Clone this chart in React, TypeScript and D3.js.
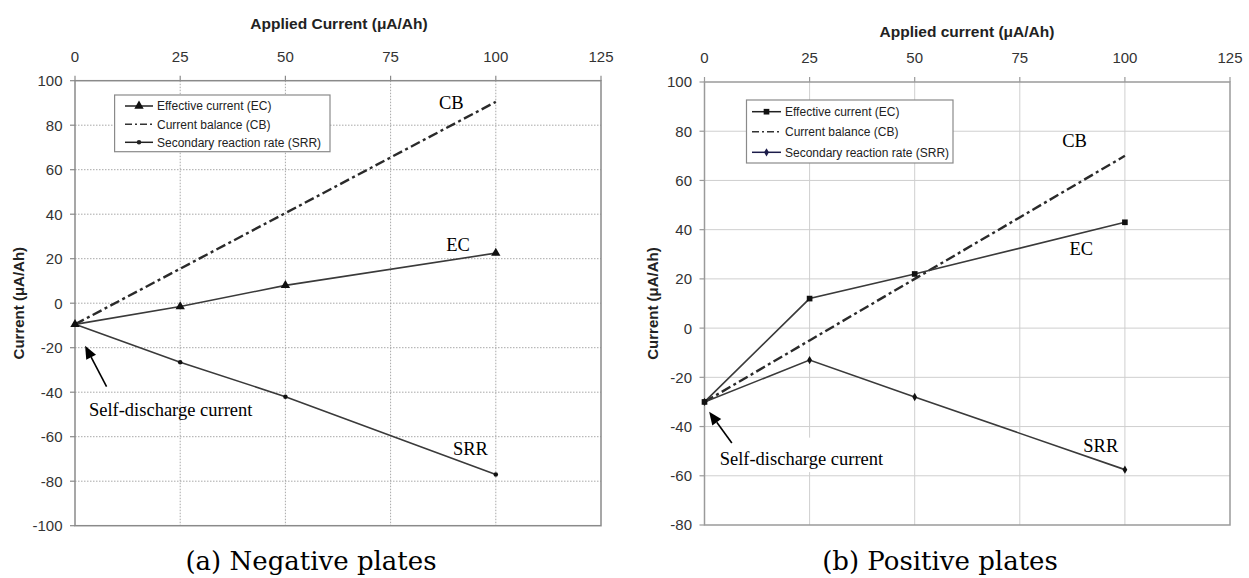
import React from 'react';
import * as d3 from 'd3';

// ---- data ----
const appliedCurrent = [0, 25, 50, 100];
const negEC = [-9.5, -1.5, 8, 22.5];
const negCB = [-9.5, 15.5, 40.5, 90.5];
const negSRR = [-9.5, -26.5, -42, -77];
const posEC = [-30, 12, 22, 43];
const posCB = [-30, -5, 20, 70];
const posSRR = [-30, -13, -28, -57.5];
const xTicks = [0, 25, 50, 75, 100, 125];
const negYTicks = [-100, -80, -60, -40, -20, 0, 20, 40, 60, 80, 100];
const posYTicks = [-80, -60, -40, -20, 0, 20, 40, 60, 80, 100];
const legendLabels = ['Effective current (EC)', 'Current balance (CB)', 'Secondary reaction rate (SRR)'];
const seriesTags = ['EC', 'CB', 'SRR'];
const negTitle = 'Applied Current (μA/Ah)';
const posTitle = 'Applied current (μA/Ah)';
const yTitle = 'Current (μA/Ah)';
const annotationText = 'Self-discharge current';
const captions = ['(a) Negative plates', '(b) Positive plates'];

const SANS = '"Liberation Sans", Arial, sans-serif';
const SERIF = '"Liberation Serif", "Times New Roman", serif';

type Cfg = {
  title: string;
  ec: number[];
  cb: number[];
  srr: number[];
  yTicks: number[];
  xRange: [number, number];
  yRange: [number, number];
  yDomain: [number, number];
  dotted: boolean;
  ecSym: any;
  ecSize: number;
  srrSym: any;
  srrSize: number;
  srrLegendColor: string;
  gridColor: string;
  frameColor: string;
  titleXY: [number, number];
  tickLabelY: number;
  yLabelX: number;
  legend: { x: number; y: number; w: number; h: number; rows: number[]; s0: number; s1: number; tx: number };
  tags: { text: string; x: number; y: number }[];
  anno: { x: number; y: number };
  arrow: { x1: number; y1: number; x2: number; y2: number };
  annoBox?: { x: number; y: number; w: number; h: number };
  caption: string;
  captionX: number;
};

const panels: Cfg[] = [
  {
    title: negTitle,
    ec: negEC,
    cb: negCB,
    srr: negSRR,
    yTicks: negYTicks,
    xRange: [75, 601],
    yRange: [525.7, 80.7],
    yDomain: [-100, 100],
    dotted: true,
    ecSym: d3.symbolTriangle,
    ecSize: 38,
    srrSym: d3.symbolCircle,
    srrSize: 16,
    srrLegendColor: '#222',
    gridColor: '#a8a8a8',
    frameColor: '#8a8a8a',
    titleXY: [339, 28.5],
    tickLabelY: 62.3,
    yLabelX: 19,
    legend: { x: 114.6, y: 95, w: 215.4, h: 56.7, rows: [106, 124.3, 142.3], s0: 125, s1: 153, tx: 157 },
    tags: [
      { text: seriesTags[1], x: 86.5, y: 87.3 },
      { text: seriesTags[0], x: 88.2, y: 23.5 },
      { text: seriesTags[2], x: 89.8, y: -68.2 },
    ],
    anno: { x: 3.3, y: -50.7 },
    arrow: { x1: 7.5, y1: -37.5, x2: 2.4, y2: -19.1 },
    caption: captions[0],
    captionX: 311,
  },
  {
    title: posTitle,
    ec: posEC,
    cb: posCB,
    srr: posSRR,
    yTicks: posYTicks,
    xRange: [704.5, 1230],
    yRange: [525, 82],
    yDomain: [-80, 100],
    dotted: false,
    ecSym: d3.symbolSquare,
    ecSize: 32,
    srrSym: d3.symbolDiamond,
    srrSize: 20,
    srrLegendColor: '#1c1c4a',
    gridColor: '#cfcfcf',
    frameColor: '#9a9a9a',
    titleXY: [967, 37],
    tickLabelY: 63.3,
    yLabelX: 653,
    legend: { x: 746.5, y: 100, w: 206.5, h: 63, rows: [111.7, 131.7, 152.3], s0: 752, s1: 781, tx: 785 },
    tags: [
      { text: seriesTags[1], x: 85.1, y: 73.7 },
      { text: seriesTags[0], x: 86.8, y: 29.7 },
      { text: seriesTags[2], x: 90.1, y: -50.5 },
    ],
    anno: { x: 3.6, y: -55.6 },
    arrow: { x1: 6.5, y1: -46.7, x2: 1.1, y2: -34 },
    annoBox: { x: 0.2, y: -44.5, w: 45, h: 14 },
    caption: captions[1],
    captionX: 940,
  },
];

const LINE = '#3a3a3a';
const CB_DASH = '10,3.5,3,3.5';

function Panel({ cfg }: { cfg: Cfg }) {
  const x = d3.scaleLinear().domain([0, 125]).range(cfg.xRange);
  const y = d3.scaleLinear().domain(cfg.yDomain).range(cfg.yRange);
  const [x0, x1] = cfg.xRange;
  const [yb, yt] = cfg.yRange;
  const line = d3
    .line<number>()
    .x((_, i) => x(appliedCurrent[i]))
    .y((d) => y(d));
  const ecPath = d3.symbol().type(cfg.ecSym).size(cfg.ecSize)() as string;
  const srrPath = d3.symbol().type(cfg.srrSym).size(cfg.srrSize)() as string;
  const dash = cfg.dotted ? '1.5,1.5' : undefined;

  // arrow
  const ax1 = x(cfg.arrow.x1), ay1 = y(cfg.arrow.y1), ax2 = x(cfg.arrow.x2), ay2 = y(cfg.arrow.y2);
  const ang = Math.atan2(ay2 - ay1, ax2 - ax1);
  const hl = 13, hw = 5.5;
  const bx = ax2 - hl * Math.cos(ang), by = ay2 - hl * Math.sin(ang);
  const head = [
    [ax2, ay2],
    [bx + hw * Math.sin(ang), by - hw * Math.cos(ang)],
    [bx - hw * Math.sin(ang), by + hw * Math.cos(ang)],
  ]
    .map((p) => p.join(','))
    .join(' ');

  const L = cfg.legend;
  const midS = (L.s0 + L.s1) / 2;

  return (
    <g>
      {/* grid */}
      {xTicks.slice(1, -1).map((t) => (
        <line key={'gx' + t} x1={x(t)} x2={x(t)} y1={yt} y2={yb} stroke={cfg.gridColor} strokeWidth={1} strokeDasharray={dash} />
      ))}
      {cfg.yTicks.slice(1, -1).map((t) => (
        <line key={'gy' + t} x1={x0} x2={x1} y1={y(t)} y2={y(t)} stroke={cfg.gridColor} strokeWidth={1} strokeDasharray={dash} />
      ))}
      {cfg.annoBox && (
        <rect
          x={x(cfg.annoBox.x)}
          y={y(cfg.annoBox.y)}
          width={x(cfg.annoBox.w) - x(0)}
          height={y(0) - y(cfg.annoBox.h)}
          fill="#fff"
        />
      )}
      {/* frame */}
      <rect x={x0} y={yt} width={x1 - x0} height={yb - yt} fill="none" stroke={cfg.frameColor} strokeWidth={1.5} />
      {/* ticks */}
      {cfg.yTicks.map((t) => (
        <g key={'ty' + t}>
          <line x1={x0 - 5} x2={x0} y1={y(t)} y2={y(t)} stroke={cfg.frameColor} strokeWidth={1.2} />
          <text x={x0 - 12.5} y={y(t)} dy="0.36em" textAnchor="end" fontFamily={SANS} fontSize={15} fill="#333">
            {t}
          </text>
        </g>
      ))}
      {xTicks.map((t) => (
        <g key={'tx' + t}>
          <line x1={x(t)} x2={x(t)} y1={yt - 5} y2={yt} stroke={cfg.frameColor} strokeWidth={1.2} />
          <text x={x(t)} y={cfg.tickLabelY} textAnchor="middle" fontFamily={SANS} fontSize={15} fill="#333">
            {t}
          </text>
        </g>
      ))}
      {/* titles */}
      <text x={cfg.titleXY[0]} y={cfg.titleXY[1]} textAnchor="middle" fontFamily={SANS} fontWeight="bold" fontSize={15.5} fill="#222">
        {cfg.title}
      </text>
      <text
        transform={`translate(${cfg.yLabelX},${(yt + yb) / 2}) rotate(-90)`}
        dy="0.36em"
        textAnchor="middle"
        fontFamily={SANS}
        fontWeight="bold"
        fontSize={15}
        fill="#222"
      >
        {yTitle}
      </text>
      {/* series */}
      <path d={line(cfg.cb) as string} fill="none" stroke="#2a2a2a" strokeWidth={2.4} strokeDasharray={CB_DASH} />
      <path d={line(cfg.ec) as string} fill="none" stroke={LINE} strokeWidth={1.6} />
      <path d={line(cfg.srr) as string} fill="none" stroke={LINE} strokeWidth={1.6} />
      {cfg.ec.map((v, i) => (
        <path key={'me' + i} d={ecPath} transform={`translate(${x(appliedCurrent[i])},${y(v)})`} fill="#111" />
      ))}
      {cfg.srr.map((v, i) => (
        <path key={'ms' + i} d={srrPath} transform={`translate(${x(appliedCurrent[i])},${y(v)})`} fill="#111" />
      ))}
      {/* legend */}
      <rect x={L.x} y={L.y} width={L.w} height={L.h} fill="#fff" stroke="#8a8a8a" strokeWidth={1.2} />
      <line x1={L.s0} x2={L.s1} y1={L.rows[0]} y2={L.rows[0]} stroke="#222" strokeWidth={1.5} />
      <path d={ecPath} transform={`translate(${midS},${L.rows[0]})`} fill="#111" />
      <line x1={L.s0} x2={L.s1} y1={L.rows[1]} y2={L.rows[1]} stroke="#333" strokeWidth={1.5} strokeDasharray="7,3,2,3" />
      <line x1={L.s0} x2={L.s1} y1={L.rows[2]} y2={L.rows[2]} stroke={cfg.srrLegendColor} strokeWidth={1.5} />
      <path d={srrPath} transform={`translate(${midS},${L.rows[2]})`} fill={cfg.srrLegendColor} />
      {legendLabels.map((lab, i) => (
        <text key={lab} x={L.tx} y={L.rows[i]} dy="0.36em" fontFamily={SANS} fontSize={12} fill="#222">
          {lab}
        </text>
      ))}
      {/* annotations */}
      {cfg.tags.map((t) => (
        <text key={t.text} x={x(t.x)} y={y(t.y)} fontFamily={SERIF} fontSize={18.5} fill="#000">
          {t.text}
        </text>
      ))}
      <text x={x(cfg.anno.x)} y={y(cfg.anno.y)} fontFamily={SERIF} fontSize={18.5} fill="#000">
        {annotationText}
      </text>
      <line x1={ax1} y1={ay1} x2={bx} y2={by} stroke="#000" strokeWidth={1.6} />
      <polygon points={head} fill="#000" />
      {/* caption */}
      <text x={cfg.captionX} y={570} textAnchor="middle" fontFamily='"DejaVu Serif", serif' fontSize={26} fill="#000">
        {cfg.caption}
      </text>
    </g>
  );
}

export default function App() {
  return (
    <svg
      width={1249}
      height={578}
      viewBox="0 0 1249 578"
      style={{ position: 'absolute', left: 0, top: 0, background: '#fff' }}
    >
      <rect x={0} y={0} width={1249} height={578} fill="#fff" />
      {panels.map((p, i) => (
        <Panel key={i} cfg={p} />
      ))}
    </svg>
  );
}
